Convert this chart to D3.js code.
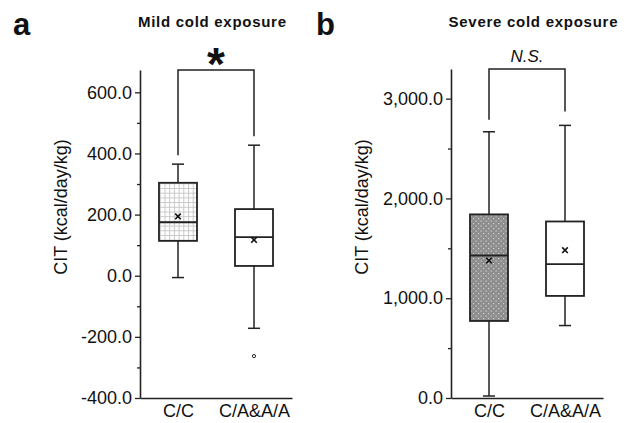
<!DOCTYPE html>
<html><head><meta charset="utf-8">
<script src="https://cdn.jsdelivr.net/npm/d3@7"></script>
<style>
body{margin:0;background:#fff;}
svg{display:block;font-family:"Liberation Sans",Arial,sans-serif;}
</style></head>
<body>
<svg id="chart" width="632" height="423"></svg>
<script>
// ---- Data ----
const categories = ["C/C", "C/A&A/A"];
// Panel a: Mild cold exposure
const mildLow    = [-6, -172];
const mildQ1     = [114, 32];
const mildMedian = [175, 126];
const mildQ3     = [304, 218];
const mildHigh   = [365, 427];
const mildMean   = [194, 117];
const mildOutliers = [[], [-263]];
const mildTicks  = [-400, -200, 0, 200, 400, 600];
const mildMinor  = [-300, -100, 100, 300, 500];
// Panel b: Severe cold exposure
const sevLow    = [20, 726];
const sevQ1     = [772, 1023];
const sevMedian = [1428, 1341];
const sevQ3     = [1840, 1769];
const sevHigh   = [2668, 2732];
const sevMean   = [1378, 1481];
const sevOutliers = [[], []];
const sevTicks  = [0, 1000, 2000, 3000];
const sevMinor  = [500, 1500, 2500];

const svg = d3.select("#chart");
const defs = svg.append("defs");

// grid pattern (panel a, C/C)
const pg = defs.append("pattern").attr("id","grid").attr("patternUnits","userSpaceOnUse")
  .attr("width",4.7).attr("height",4.7);
pg.append("rect").attr("width",4.7).attr("height",4.7).attr("fill","#fff");
pg.append("path").attr("d","M0,0.5H4.7M0.5,0V4.7").attr("stroke","#c8c8c8").attr("stroke-width",1);

// dot pattern (panel b, C/C)
const pd = defs.append("pattern").attr("id","dots").attr("patternUnits","userSpaceOnUse")
  .attr("width",5).attr("height",5);
pd.append("rect").attr("width",5).attr("height",5).attr("fill","#8e8e8e");
pd.append("rect").attr("x",0.5).attr("y",0.5).attr("width",1.2).attr("height",1.2).attr("fill","#d0d0d0");
pd.append("rect").attr("x",3).attr("y",3).attr("width",1.2).attr("height",1.2).attr("fill","#d0d0d0");

const minusFix = s => s.replace("\u2212","-");

function panel(opts){
  const g = svg.append("g");
  const y = d3.scaleLinear().domain(opts.domain).range([opts.yBottom, opts.yTop]);
  const x = d3.scalePoint().domain(categories).range([opts.xLeft, opts.xRight]).padding(0.5);

  // minor ticks
  g.append("g").attr("transform",`translate(${opts.xLeft},0)`)
    .call(d3.axisLeft(y).tickValues(opts.minor).tickSize(3).tickFormat(""))
    .call(a=>a.select(".domain").remove())
    .call(a=>a.selectAll("line").attr("stroke","#222").attr("stroke-width",1.3));
  // major
  const ya = g.append("g").attr("transform",`translate(${opts.xLeft},0)`)
    .call(d3.axisLeft(y).tickValues(opts.ticks).tickSize(5).tickSizeOuter(0).tickPadding(3)
      .tickFormat(d=>minusFix(opts.fmt(d))));
  ya.select(".domain").attr("stroke","#222").attr("stroke-width",1.6);
  ya.selectAll("line").attr("stroke","#222").attr("stroke-width",1.3);
  ya.selectAll("text").attr("font-size",18).attr("fill","#111").attr("font-family","Liberation Sans, Arial, sans-serif");

  // x axis
  const xa = g.append("g").attr("transform",`translate(0,${opts.yBottom})`)
    .call(d3.axisBottom(x).tickSize(0).tickSizeOuter(0).tickPadding(0));
  xa.select(".domain").attr("stroke","#222").attr("stroke-width",1.6);
  xa.selectAll("text").attr("font-size",18).attr("fill","#111")
    .attr("dy",null).attr("y",19).attr("font-family","Liberation Sans, Arial, sans-serif");

  const bw = 38, cap = 12;
  categories.forEach((c,i)=>{
    const cx = x(c);
    const bg = g.append("g");
    // whiskers
    bg.append("line").attr("x1",cx).attr("x2",cx).attr("y1",y(opts.q3[i])).attr("y2",y(opts.high[i]))
      .attr("stroke","#222").attr("stroke-width",1.5);
    bg.append("line").attr("x1",cx).attr("x2",cx).attr("y1",y(opts.q1[i])).attr("y2",y(opts.low[i]))
      .attr("stroke","#222").attr("stroke-width",1.5);
    bg.append("line").attr("x1",cx-cap/2).attr("x2",cx+cap/2).attr("y1",y(opts.high[i])).attr("y2",y(opts.high[i]))
      .attr("stroke","#222").attr("stroke-width",1.5);
    bg.append("line").attr("x1",cx-cap/2).attr("x2",cx+cap/2).attr("y1",y(opts.low[i])).attr("y2",y(opts.low[i]))
      .attr("stroke","#222").attr("stroke-width",1.5);
    // box
    bg.append("rect").attr("x",cx-bw/2).attr("width",bw)
      .attr("y",y(opts.q3[i])).attr("height",y(opts.q1[i])-y(opts.q3[i]))
      .attr("fill",opts.fills[i]).attr("stroke","#222").attr("stroke-width",1.8);
    bg.append("line").attr("x1",cx-bw/2).attr("x2",cx+bw/2).attr("y1",y(opts.median[i])).attr("y2",y(opts.median[i]))
      .attr("stroke","#222").attr("stroke-width",1.8);
    // mean
    const my = y(opts.mean[i]), s=2.8;
    bg.append("path").attr("d",`M${cx-s},${my-s}L${cx+s},${my+s}M${cx-s},${my+s}L${cx+s},${my-s}`)
      .attr("stroke","#111").attr("stroke-width",1.6);
    // outliers
    opts.outliers[i].forEach(v=>{
      bg.append("circle").attr("cx",cx).attr("cy",y(v)).attr("r",1.6)
        .attr("fill","none").attr("stroke","#222").attr("stroke-width",1);
    });
  });

  // bracket
  const gap = opts.gap;
  const x1 = x(categories[0]), x2 = x(categories[1]);
  g.append("path").attr("d",
    `M${x1},${y(opts.high[0])-gap[0]}V${opts.yTop}H${x2}V${y(opts.high[1])-gap[1]}`)
    .attr("fill","none").attr("stroke","#222").attr("stroke-width",1.5);

  // y label
  g.append("text").attr("transform",`translate(${opts.labelX},${opts.labelY}) rotate(-90)`)
    .attr("text-anchor","middle").attr("font-size",18).attr("fill","#111")
    .text("CIT (kcal/day/kg)");
  return {g,x,y};
}

const pa = panel({domain:[-400,673], yBottom:398, yTop:70, xLeft:140, xRight:292,
  ticks:mildTicks, minor:mildMinor, fmt:d3.format(".1f"),
  low:mildLow, q1:mildQ1, median:mildMedian, q3:mildQ3, high:mildHigh, mean:mildMean,
  outliers:mildOutliers, fills:["url(#grid)","#fff"], gap:[9,9], labelX:67, labelY:207});

const pb = panel({domain:[0,3297], yBottom:398, yTop:69, xLeft:451, xRight:603,
  ticks:sevTicks, minor:sevMinor, fmt:d3.format(",.1f"),
  low:sevLow, q1:sevQ1, median:sevMedian, q3:sevQ3, high:sevHigh, mean:sevMean,
  outliers:sevOutliers, fills:["url(#dots)","#fff"], gap:[12,14], labelX:368, labelY:207});

// panel letters
svg.append("text").attr("x",13).attr("y",35).attr("font-size",31).attr("font-weight","bold").attr("fill","#111").text("a");
svg.append("text").attr("x",316).attr("y",35).attr("font-size",31).attr("font-weight","bold").attr("fill","#111").text("b");

// titles
svg.append("text").attr("x",212).attr("y",27).attr("text-anchor","middle").attr("font-size",15)
  .attr("font-weight","bold").attr("fill","#111").attr("textLength",148).attr("lengthAdjust","spacing").text("Mild cold exposure");
svg.append("text").attr("x",533).attr("y",27).attr("text-anchor","middle").attr("font-size",15)
  .attr("font-weight","bold").attr("fill","#111").attr("textLength",169).attr("lengthAdjust","spacing").text("Severe cold exposure");

// significance
svg.append("text").attr("x",(pa.x(categories[0])+pa.x(categories[1]))/2).attr("y",80).attr("text-anchor","middle")
  .attr("font-size",46).attr("font-weight","bold").attr("fill","#111").text("*");
svg.append("text").attr("x",(pb.x(categories[0])+pb.x(categories[1]))/2).attr("y",62).attr("text-anchor","middle")
  .attr("font-size",17).attr("font-style","italic").attr("fill","#111").text("N.S.");
</script>
</body></html>
